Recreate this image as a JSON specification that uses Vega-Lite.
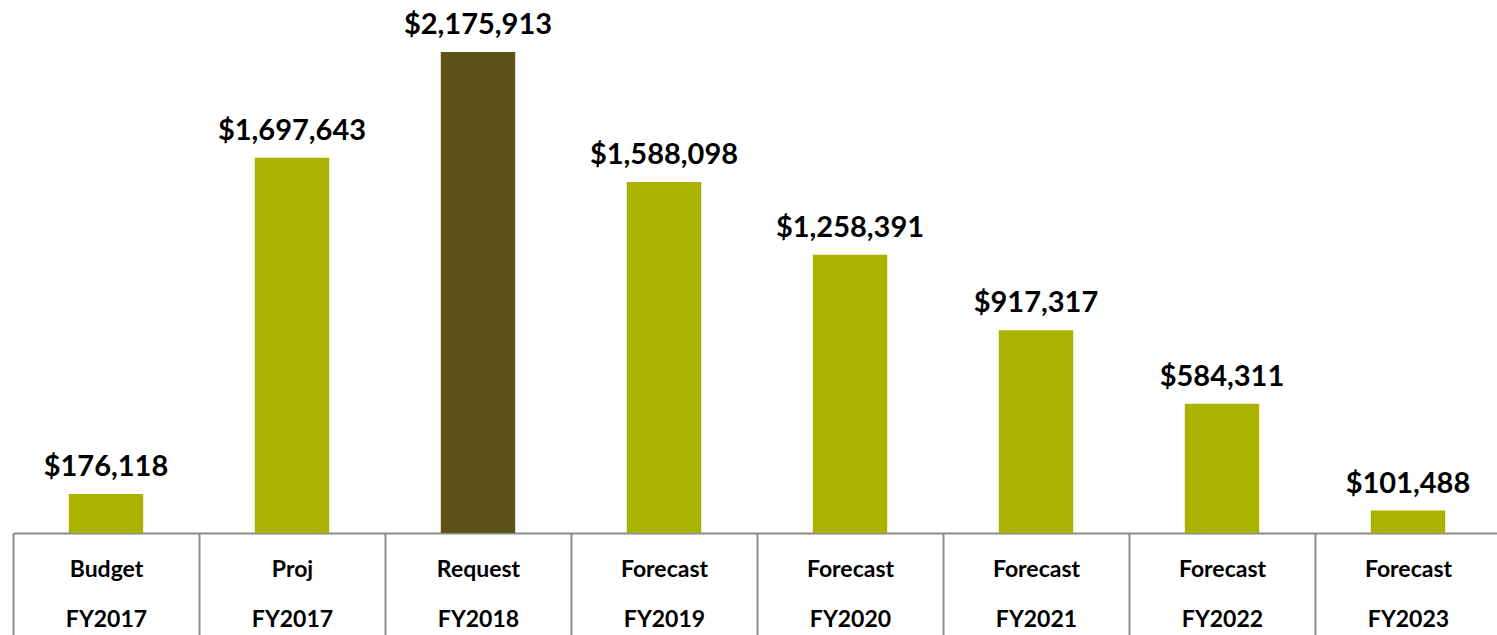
{
  "$schema": "https://vega.github.io/schema/vega-lite/v6.json",
  "autosize": "none",
  "padding": {"left": 13, "top": 0, "right": 0, "bottom": 102},
  "width": 1488,
  "height": 533,
  "background": "white",
  "config": {"view": {"stroke": null}, "font": "Lato"},
  "data": {"values": [
    {"cat": "Budget|FY2017", "value": 176118, "hl": "n"},
    {"cat": "Proj|FY2017", "value": 1697643, "hl": "n"},
    {"cat": "Request|FY2018", "value": 2175913, "hl": "y"},
    {"cat": "Forecast|FY2019", "value": 1588098, "hl": "n"},
    {"cat": "Forecast|FY2020", "value": 1258391, "hl": "n"},
    {"cat": "Forecast|FY2021", "value": 917317, "hl": "n"},
    {"cat": "Forecast|FY2022", "value": 584311, "hl": "n"},
    {"cat": "Forecast|FY2023", "value": 101488, "hl": "n"}
  ]},
  "encoding": {
    "x": {"field": "cat", "type": "nominal", "sort": null,
      "scale": {"paddingInner": 0, "paddingOuter": 0},
      "axis": {"title": null, "labelAngle": 0, "labelExpr": "split(datum.label, '|')",
        "labelFont": "Lato", "labelFontWeight": "bold", "labelFontSize": 23, "labelColor": "black",
        "labelLineHeight": 50, "labelBaseline": "middle", "labelPadding": -66,
        "tickBand": "extent", "tickSize": 102, "tickColor": "#8c8c8c", "tickWidth": 2,
        "domainColor": "#8c8c8c", "domainWidth": 2, "grid": false}},
    "y": {"field": "value", "type": "quantitative", "scale": {"domain": [0, 2411000]}, "axis": null}
  },
  "layer": [
    {"mark": {"type": "bar", "width": {"band": 0.4}},
     "encoding": {"color": {"field": "hl", "type": "nominal", "scale": {"domain": ["n", "y"], "range": ["#AAB400", "#5C5319"]}, "legend": null}}},
    {"mark": {"type": "text", "baseline": "alphabetic", "dy": -18, "font": "Lato", "fontWeight": "bold", "fontSize": 29, "color": "black"},
     "encoding": {"text": {"field": "value", "type": "quantitative", "format": "$,d"}}}
  ]
}
